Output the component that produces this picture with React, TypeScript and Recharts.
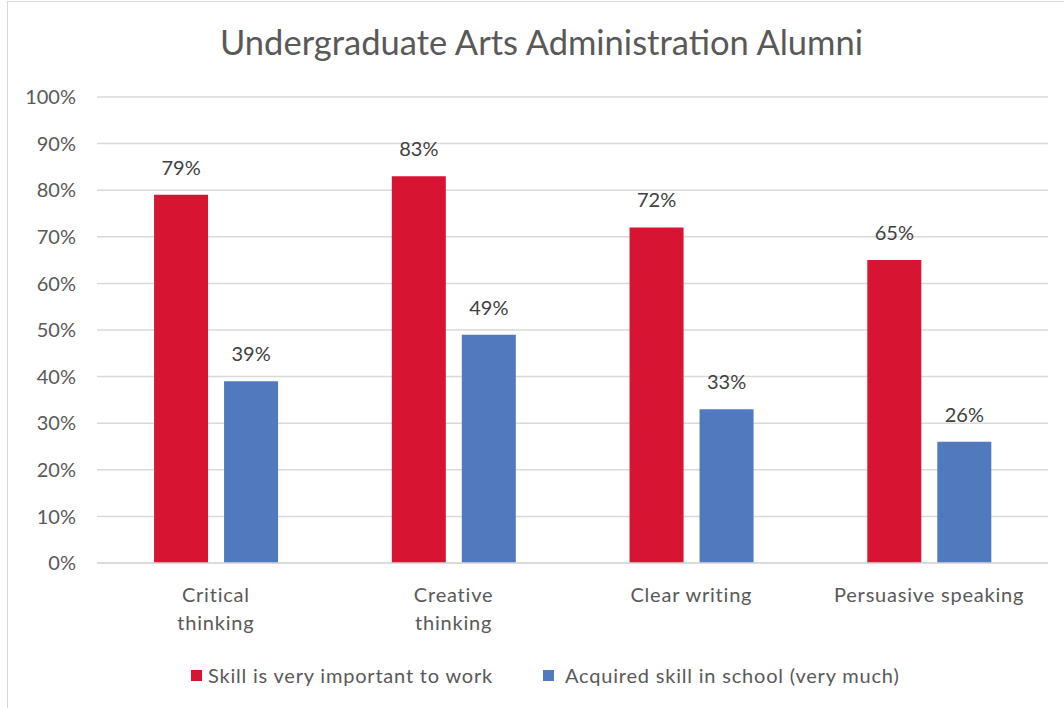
import React from 'react';
import { BarChart, Bar, XAxis, YAxis, CartesianGrid, LabelList } from 'recharts';

const categories = ['Critical thinking', 'Creative thinking', 'Clear writing', 'Persuasive speaking'];
const tickLines = [['Critical', 'thinking'], ['Creative', 'thinking'], ['Clear writing'], ['Persuasive speaking']];
const importantToWork = [79, 83, 72, 65];
const acquiredInSchool = [39, 49, 33, 26];
const yTicks = [0, 10, 20, 30, 40, 50, 60, 70, 80, 90, 100];

const seriesNames = ['Skill is very important to work', 'Acquired skill in school (very much)'];
const RED = '#D71533';
const BLUE = '#5179BD';
const FONT = 'Lato, "Open Sans", sans-serif';
const TEXT = '#595959';

const data = categories.map((name, i) => ({
  name,
  important: importantToWork[i],
  acquired: acquiredInSchool[i],
}));

function CategoryTick(props: any) {
  const { x, y, payload } = props;
  const idx = categories.indexOf(payload.value);
  const lines = tickLines[idx] || [payload.value];
  return (
    <g>
      {lines.map((line, i) => (
        <text
          key={i}
          x={x}
          y={y + 31 + i * 28}
          textAnchor="middle"
          fill={TEXT}
          fontSize={20}
          letterSpacing={0.8}
          fontFamily={FONT}
        >
          {line}
        </text>
      ))}
    </g>
  );
}

export default function App() {
  return (
    <div style={{ position: 'absolute', left: 0, top: 0, width: 1064, height: 708, background: '#fff', overflow: 'hidden' }}>
      <div
        style={{
          position: 'absolute',
          left: 7,
          top: 1,
          width: 1070,
          height: 720,
          border: '1px solid #d9d9d9',
        }}
      />
      <div
        style={{
          position: 'absolute',
          left: 0,
          top: 21,
          width: 1083,
          textAlign: 'center',
          fontFamily: FONT,
          fontSize: 34.5,
          color: TEXT,
        }}
      >
        Undergraduate Arts Administration Alumni
      </div>
      <div style={{ position: 'absolute', left: 0, top: 0 }}>
        <BarChart
          width={1064}
          height={708}
          data={data}
          margin={{ top: 97, right: 16, left: 0, bottom: 115 }}
          barCategoryGap="24%"
          barGap={16}
        >
          <CartesianGrid vertical={false} stroke="#d9d9d9" strokeWidth={1.5} />
          <XAxis
            dataKey="name"
            height={30}
            axisLine={{ stroke: '#d9d9d9', strokeWidth: 1.5 }}
            tickLine={false}
            tick={<CategoryTick />}
            interval={0}
          />
          <YAxis
            width={97}
            domain={[0, 100]}
            ticks={yTicks}
            tickFormatter={(v: number) => `${v}%`}
            axisLine={false}
            tickLine={false}
            tickSize={0}
            tickMargin={21}
            tick={{ fill: TEXT, fontSize: 20, fontFamily: FONT }}
          />
          <Bar dataKey="important" fill={RED} isAnimationActive={false}>
            <LabelList
              dataKey="important"
              position="top"
              offset={20}
              formatter={(v: any) => `${v}%`}
              style={{ fill: '#404040', fontSize: 20, fontFamily: FONT }}
            />
          </Bar>
          <Bar dataKey="acquired" fill={BLUE} isAnimationActive={false}>
            <LabelList
              dataKey="acquired"
              position="top"
              offset={20}
              formatter={(v: any) => `${v}%`}
              style={{ fill: '#404040', fontSize: 20, fontFamily: FONT }}
            />
          </Bar>
        </BarChart>
      </div>
      {seriesNames.map((name, i) => (
        <div
          key={name}
          style={{
            position: 'absolute',
            left: i === 0 ? 191 : 543,
            top: 662,
            height: 26,
            display: 'flex',
            alignItems: 'center',
            fontFamily: FONT,
            fontSize: 20,
            letterSpacing: 0.8,
            color: TEXT,
            whiteSpace: 'nowrap',
          }}
        >
          <span
            style={{
              display: 'inline-block',
              width: 11,
              height: 11,
              background: i === 0 ? RED : BLUE,
              marginRight: i === 0 ? 6 : 11,
            }}
          />
          <span>{name}</span>
        </div>
      ))}
    </div>
  );
}
